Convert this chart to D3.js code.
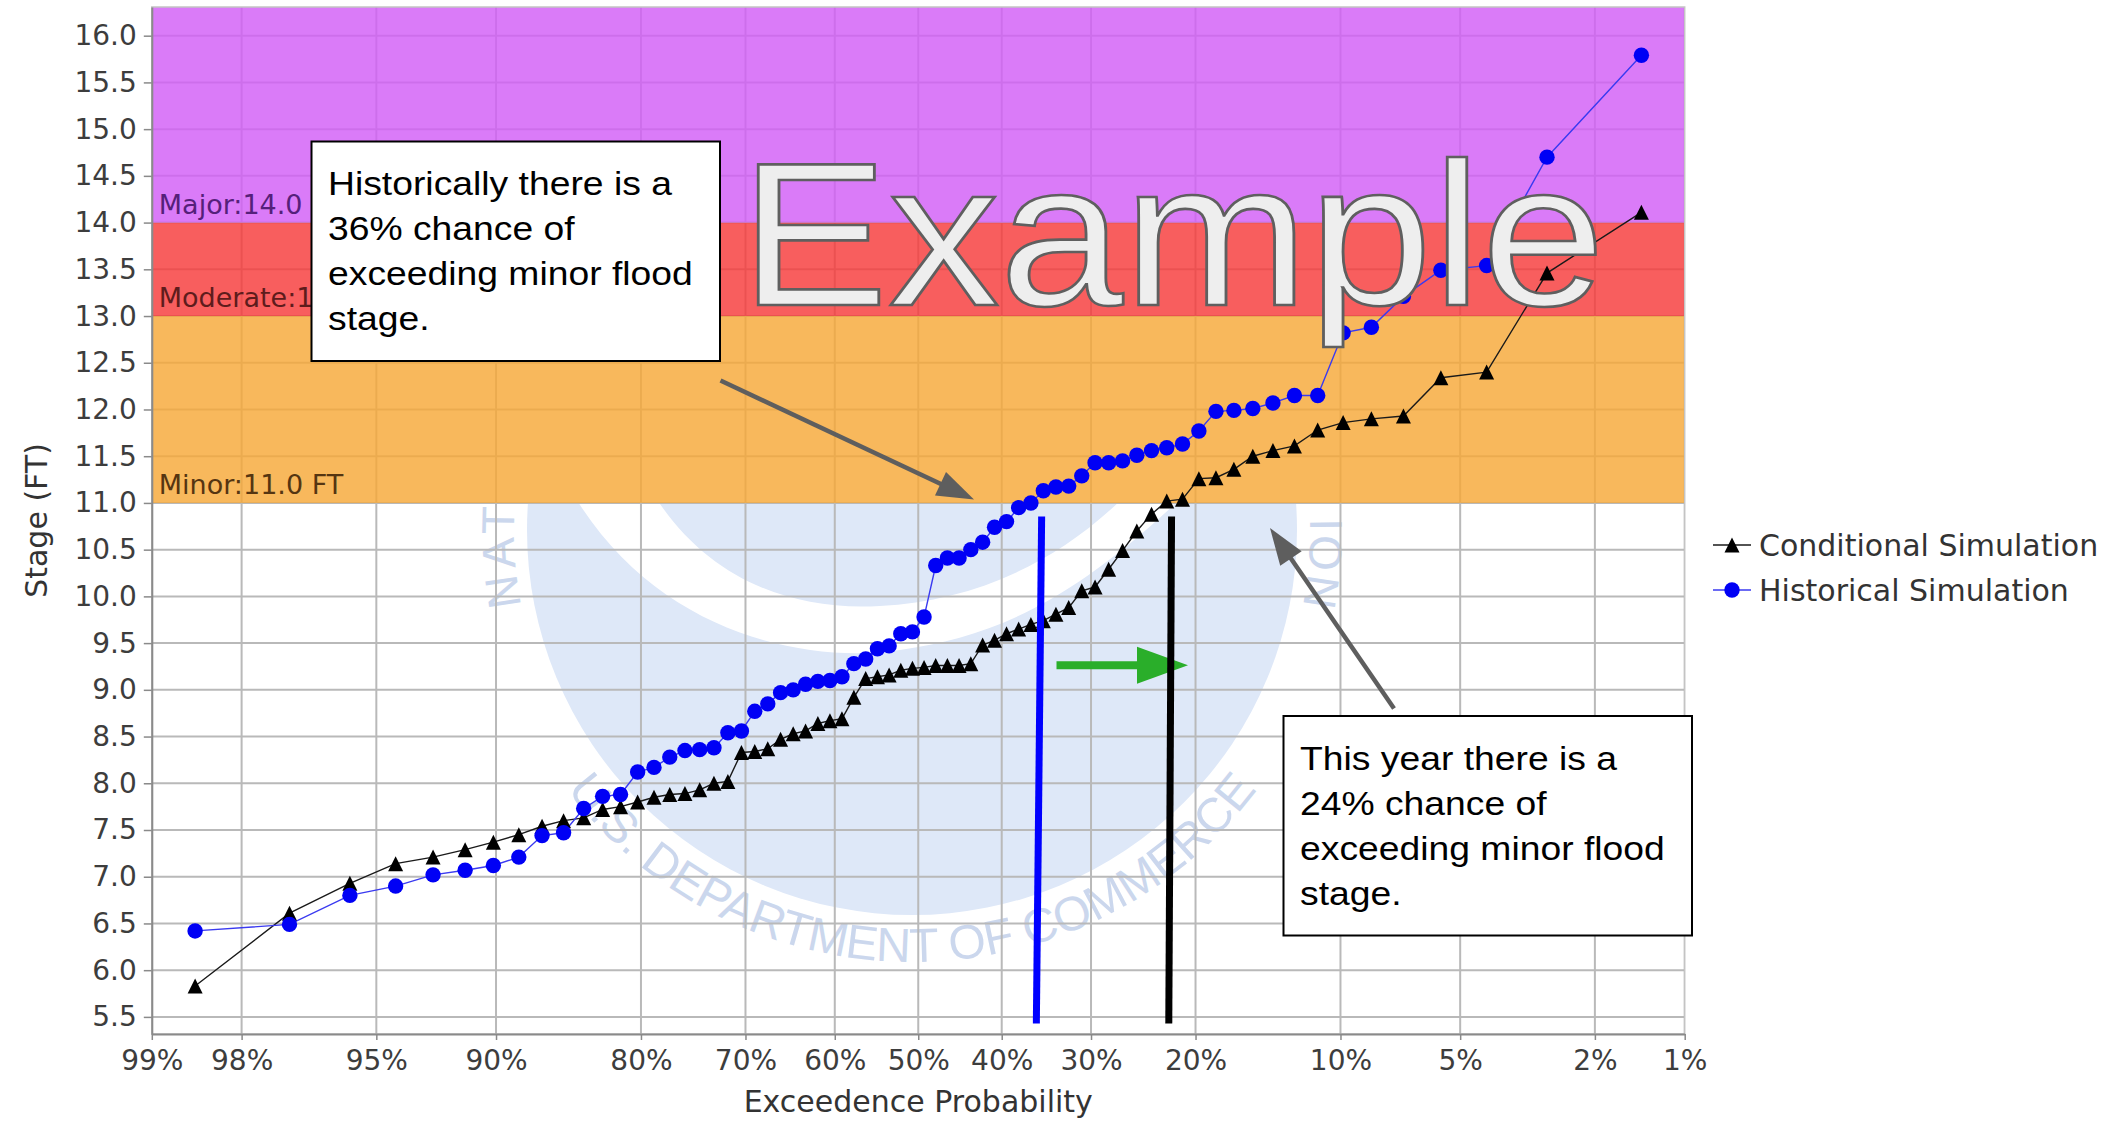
<!DOCTYPE html>
<html>
<head>
<meta charset="utf-8">
<script src="https://cdn.jsdelivr.net/npm/d3@7"></script>
<style>
  html, body { margin: 0; padding: 0; background: #ffffff; }
  svg { display: block; }
</style>
</head>
<body>
<svg id="chart" width="2106" height="1121"></svg>
<script>
// ---------------------------------------------------------------
// Data
// ---------------------------------------------------------------
// Exceedance probabilities marked on the probability axis
const probTicks = [0.99, 0.98, 0.95, 0.90, 0.80, 0.70, 0.60, 0.50, 0.40, 0.30, 0.20, 0.10, 0.05, 0.02, 0.01];
const probTickLabels = ["99%", "98%", "95%", "90%", "80%", "70%", "60%", "50%", "40%", "30%", "20%", "10%", "5%", "2%", "1%"];

// Stage axis ticks (FT)
const stageTicks = [5.5, 6.0, 6.5, 7.0, 7.5, 8.0, 8.5, 9.0, 9.5, 10.0, 10.5, 11.0, 11.5, 12.0, 12.5, 13.0, 13.5, 14.0, 14.5, 15.0, 15.5, 16.0];

// Simulated stages, sorted from lowest to highest (FT)
const conditional = [
  5.83, 6.61, 6.93, 7.14, 7.21, 7.29, 7.37, 7.45, 7.54, 7.60,
  7.63, 7.72, 7.75, 7.80, 7.85, 7.88, 7.89, 7.93, 8.00, 8.02,
  8.33, 8.34, 8.37, 8.47, 8.53, 8.56, 8.64, 8.67, 8.69, 8.92,
  9.12, 9.14, 9.16, 9.21, 9.23, 9.24, 9.26, 9.26, 9.26, 9.28,
  9.48, 9.53, 9.60, 9.65, 9.70, 9.74, 9.81, 9.88, 10.06, 10.10,
  10.29, 10.49, 10.70, 10.88, 11.02, 11.04, 11.26, 11.27, 11.36, 11.50,
  11.56, 11.61, 11.78, 11.86, 11.90, 11.93, 12.34, 12.40, 13.46, 14.11
];
const historical = [
  6.42, 6.49, 6.80, 6.90, 7.02, 7.07, 7.12, 7.21, 7.44, 7.47,
  7.73, 7.86, 7.88, 8.12, 8.17, 8.28, 8.35, 8.36, 8.38, 8.54,
  8.56, 8.77, 8.85, 8.97, 9.00, 9.06, 9.09, 9.10, 9.14, 9.28,
  9.33, 9.44, 9.47, 9.60, 9.62, 9.78, 10.33, 10.41, 10.41, 10.50,
  10.58, 10.74, 10.80, 10.95, 11.00, 11.13, 11.17, 11.18, 11.29, 11.43,
  11.43, 11.45, 11.51, 11.56, 11.59, 11.63, 11.77, 11.98, 11.99, 12.01,
  12.07, 12.15, 12.15, 12.82, 12.88, 13.21, 13.49, 13.54, 14.70, 15.79
];

// Flood categories: name and stage at which each begins (FT)
const floodNames = ["Minor", "Moderate", "Major"];
const floodStages = [11.0, 13.0, 14.0];

const seriesNames = ["Conditional Simulation", "Historical Simulation"];

// Exceedance marks where each series reaches minor flood stage (top, bottom of each line)
const histMarkProb = [0.354, 0.360];
const condMarkProb = [0.221, 0.2235];
const markStageRange = [10.855, 5.43];

const noteHistorical = ["Historically there is a", "36% chance of", "exceeding minor flood", "stage."];
const noteThisYear = ["This year there is a", "24% chance of", "exceeding minor flood", "stage."];

// ---------------------------------------------------------------
// Layout and style
// ---------------------------------------------------------------
const plot = { left: 151.8, right: 1684.7, top: 7, bottom: 1034 };
const SANS = "'DejaVu Sans', Verdana, sans-serif";
const ARIAL = "'Liberation Sans', Arial, sans-serif";
const bandOpacity = 0.82;
const bandFill = { Minor: "#f7a838", Moderate: "#f73a3a", Major: "#d25ef6" };
const bandText = { Minor: "#553511", Moderate: "#5e1c1c", Major: "#55207a" };

// Inverse of the standard normal CDF (Acklam's rational approximation)
function probit(p) {
  const a = [-3.969683028665376e+01, 2.209460984245205e+02, -2.759285104469687e+02, 1.383577518672690e+02, -3.066479806614716e+01, 2.506628277459239e+00];
  const b = [-5.447609879822406e+01, 1.615858368580409e+02, -1.556989798598866e+02, 6.680131188771972e+01, -1.328068155288572e+01];
  const c = [-7.784894002430293e-03, -3.223964580411365e-01, -2.400758277161838e+00, -2.549732539343734e+00, 4.374664141464968e+00, 2.938163982698783e+00];
  const d = [7.784695709041462e-03, 3.224671290700398e-01, 2.445134137142996e+00, 3.754408661907416e+00];
  const pl = 0.02425, ph = 1 - pl;
  let q, r;
  if (p < pl) {
    q = Math.sqrt(-2 * Math.log(p));
    return (((((c[0]*q + c[1])*q + c[2])*q + c[3])*q + c[4])*q + c[5]) / ((((d[0]*q + d[1])*q + d[2])*q + d[3])*q + 1);
  }
  if (p > ph) {
    q = Math.sqrt(-2 * Math.log(1 - p));
    return -(((((c[0]*q + c[1])*q + c[2])*q + c[3])*q + c[4])*q + c[5]) / ((((d[0]*q + d[1])*q + d[2])*q + d[3])*q + 1);
  }
  q = p - 0.5; r = q * q;
  return (((((a[0]*r + a[1])*r + a[2])*r + a[3])*r + a[4])*r + a[5])*q / (((((b[0]*r + b[1])*r + b[2])*r + b[3])*r + b[4])*r + 1);
}

// ---------------------------------------------------------------
// Scales
// ---------------------------------------------------------------
const zScale = d3.scaleLinear().domain([probit(0.99), probit(0.01)]).range([plot.left, plot.right]);
const x = p => zScale(probit(p));
const y = d3.scaleLinear().domain([5.317, 16.307]).range([plot.bottom, plot.top]);

// Weibull plotting position: exceedance of the i-th lowest of n values
const plotPos = (i, n) => 1 - (i + 1) / (n + 1);
const toPoints = arr => arr.map((v, i) => ({ p: plotPos(i, arr.length), v }));
const condPts = toPoints(conditional);
const histPts = toPoints(historical);

const svg = d3.select("#chart");
svg.append("rect").attr("width", 2106).attr("height", 1121).attr("fill", "#ffffff");

const defs = svg.append("defs");
defs.append("clipPath").attr("id", "plotClip")
  .append("rect")
  .attr("x", plot.left).attr("y", plot.top)
  .attr("width", plot.right - plot.left).attr("height", plot.bottom - plot.top);
// the seal only shows in the open area below the flood bands
defs.append("clipPath").attr("id", "openClip")
  .append("rect")
  .attr("x", plot.left).attr("y", y(floodStages[0]))
  .attr("width", plot.right - plot.left).attr("height", plot.bottom - y(floodStages[0]));

const plotG = svg.append("g").attr("clip-path", "url(#plotClip)");

// ---------------------------------------------------------------
// Faint agency seal behind the plot
// ---------------------------------------------------------------
const seal = { cx: 912, cy: 530, r: 385 };
const sealG = plotG.append("g").attr("clip-path", "url(#openClip)");
defs.append("clipPath").attr("id", "sealClip")
  .append("circle").attr("cx", seal.cx).attr("cy", seal.cy).attr("r", seal.r);
sealG.append("circle")
  .attr("cx", seal.cx).attr("cy", seal.cy).attr("r", seal.r)
  .attr("fill", "#dee8f8");
// white gull sweeping across the seal
sealG.append("path")
  .attr("clip-path", "url(#sealClip)")
  .attr("fill", "#ffffff")
  .attr("d", "M 560 470 C 640 630, 800 665, 900 650 C 1000 635, 1080 600, 1210 470 " +
             "L 1150 470 C 1070 560, 980 600, 880 606 C 780 612, 690 570, 640 470 Z");

const polar = (r, deg) => {
  const t = deg * Math.PI / 180;
  return [seal.cx + r * Math.cos(t), seal.cy + r * Math.sin(t)];
};
const arcPath = (r, a0, a1, sweep, large) => {
  const p0 = polar(r, a0), p1 = polar(r, a1);
  return `M ${p0[0]} ${p0[1]} A ${r} ${r} 0 ${large} ${sweep} ${p1[0]} ${p1[1]}`;
};
// lettering around the rim: the ends of the upper legend and the full lower legend
defs.append("path").attr("id", "sealLeft").attr("d", arcPath(398, 169, 200, 1, 0));
defs.append("path").attr("id", "sealRight").attr("d", arcPath(398, 340, 371, 1, 0));
defs.append("path").attr("id", "sealBottom").attr("d", arcPath(432, 146, 34, 0, 0));
const sealText = (id, size, txt, anchor, offset, len) => {
  const tp = sealG.append("text")
    .attr("font-family", ARIAL).attr("font-size", size).attr("fill", "#cbd7ed")
    .append("textPath").attr("href", "#" + id)
    .attr("startOffset", offset).attr("text-anchor", anchor)
    .text(txt);
  if (len) tp.attr("textLength", len).attr("lengthAdjust", "spacing");
};
sealText("sealLeft", 46, "NATI", "start", "0%", 118);
sealText("sealRight", 46, "ION", "end", "100%", 88);
sealText("sealBottom", 48, "U.S. DEPARTMENT OF COMMERCE", "middle", "50%", 800);

// ---------------------------------------------------------------
// Gridlines, then translucent flood-category bands over them
// ---------------------------------------------------------------
const grid = plotG.append("g").attr("stroke", "#b9b9b9").attr("stroke-width", 2);
grid.selectAll("line.h").data(stageTicks).join("line").attr("class", "h")
  .attr("x1", plot.left).attr("x2", plot.right)
  .attr("y1", d => y(d)).attr("y2", d => y(d));
grid.selectAll("line.v").data(probTicks).join("line").attr("class", "v")
  .attr("y1", plot.top).attr("y2", plot.bottom)
  .attr("x1", d => x(d)).attr("x2", d => x(d));

const bandTops = floodStages.map((s, i) => i < floodStages.length - 1 ? floodStages[i + 1] : y.domain()[1]);
plotG.append("g").selectAll("rect").data(floodNames).join("rect")
  .attr("x", plot.left).attr("width", plot.right - plot.left)
  .attr("y", (d, i) => y(bandTops[i]))
  .attr("height", (d, i) => y(floodStages[i]) - y(bandTops[i]))
  .attr("fill", d => bandFill[d]).attr("fill-opacity", bandOpacity);

plotG.append("g").selectAll("text").data(floodNames).join("text")
  .attr("x", plot.left + 7)
  .attr("y", (d, i) => y(floodStages[i]) - 9)
  .attr("font-family", SANS).attr("font-size", 27)
  .attr("fill", d => bandText[d])
  .text((d, i) => `${d}:${floodStages[i].toFixed(1)} FT`);

// plot frame
svg.append("rect")
  .attr("x", plot.left).attr("y", plot.top)
  .attr("width", plot.right - plot.left).attr("height", plot.bottom - plot.top)
  .attr("fill", "none").attr("stroke", "#c4c4c4").attr("stroke-width", 1.5);

// ---------------------------------------------------------------
// Axes
// ---------------------------------------------------------------
const xAxis = d3.axisBottom(zScale)
  .tickValues(probTicks.map(probit))
  .tickFormat((d, i) => probTickLabels[i])
  .tickSize(6).tickSizeOuter(0).tickPadding(10);
const xg = svg.append("g").attr("transform", `translate(0,${plot.bottom})`).call(xAxis);

const yAxis = d3.axisLeft(y)
  .tickValues(stageTicks)
  .tickFormat(d3.format(".1f"))
  .tickSize(8).tickSizeOuter(0).tickPadding(7);
const yg = svg.append("g").attr("transform", `translate(${plot.left},0)`).call(yAxis);

[xg, yg].forEach(g => {
  g.select(".domain").attr("stroke", "#8a8a8a").attr("stroke-width", 2);
  g.selectAll(".tick line").attr("stroke", "#8a8a8a").attr("stroke-width", 1.5);
  g.selectAll(".tick text").attr("font-family", SANS).attr("font-size", 28).attr("fill", "#3d3d3d");
});

svg.append("text")
  .attr("x", (plot.left + plot.right) / 2).attr("y", 1112)
  .attr("text-anchor", "middle")
  .attr("font-family", SANS).attr("font-size", 30).attr("fill", "#333")
  .text("Exceedence Probability");
svg.append("text")
  .attr("transform", `translate(47,${(plot.top + plot.bottom) / 2}) rotate(-90)`)
  .attr("text-anchor", "middle")
  .attr("font-family", SANS).attr("font-size", 30).attr("fill", "#333")
  .text("Stage (FT)");

// ---------------------------------------------------------------
// Series
// ---------------------------------------------------------------
const line = d3.line().x(d => x(d.p)).y(d => y(d.v));
const triPath = "M0,-7.5L7.5,7.5L-7.5,7.5Z";

const dataG = plotG.append("g");
dataG.append("path").datum(condPts).attr("d", line)
  .attr("fill", "none").attr("stroke", "#1a1a1a").attr("stroke-width", 1.4);
dataG.append("path").datum(histPts).attr("d", line)
  .attr("fill", "none").attr("stroke", "#3a3af0").attr("stroke-width", 1.4);
dataG.append("g").selectAll("path").data(condPts).join("path")
  .attr("d", triPath)
  .attr("transform", d => `translate(${x(d.p)},${y(d.v)})`)
  .attr("fill", "#000");
dataG.append("g").selectAll("circle").data(histPts).join("circle")
  .attr("cx", d => x(d.p)).attr("cy", d => y(d.v)).attr("r", 7.7)
  .attr("fill", "#0000f5");

// ---------------------------------------------------------------
// Annotations
// ---------------------------------------------------------------
const annot = svg.append("g");

// green shift arrow between the two marks
const gy = y(9.262);
annot.append("line")
  .attr("x1", 1056.5).attr("x2", 1140).attr("y1", gy).attr("y2", gy)
  .attr("stroke", "#2aae2a").attr("stroke-width", 8);
annot.append("path")
  .attr("d", `M1137,${gy - 18.5} L1188,${gy} L1137,${gy + 18.5} Z`)
  .attr("fill", "#2aae2a");

// vertical marks at the exceedance where each series reaches minor stage
annot.append("line")
  .attr("x1", x(histMarkProb[0])).attr("y1", y(markStageRange[0]))
  .attr("x2", x(histMarkProb[1])).attr("y2", y(markStageRange[1]))
  .attr("stroke", "#0000ff").attr("stroke-width", 7);
annot.append("line")
  .attr("x1", x(condMarkProb[0])).attr("y1", y(markStageRange[0]))
  .attr("x2", x(condMarkProb[1])).attr("y2", y(markStageRange[1]))
  .attr("stroke", "#000000").attr("stroke-width", 7);

// "Example" stamp
svg.append("text")
  .attr("transform", "translate(740,305) scale(1.085,1)")
  .attr("font-family", ARIAL).attr("font-size", 205)
  .attr("fill", "#eeeeee").attr("stroke", "#5f5f5f").attr("stroke-width", 2.6)
  .text("Example");

// pointer arrows
function pointer(x0, y0, x1, y1) {
  const ang = Math.atan2(y1 - y0, x1 - x0);
  const len = 37, hw = 13;
  const bx = x1 - len * Math.cos(ang), by = y1 - len * Math.sin(ang);
  const nx = -Math.sin(ang), ny = Math.cos(ang);
  annot.append("line")
    .attr("x1", x0).attr("y1", y0).attr("x2", bx + 4 * Math.cos(ang)).attr("y2", by + 4 * Math.sin(ang))
    .attr("stroke", "#5e5e5e").attr("stroke-width", 4.5);
  annot.append("path")
    .attr("d", `M${x1},${y1} L${bx + hw * nx},${by + hw * ny} L${bx - hw * nx},${by - hw * ny} Z`)
    .attr("fill", "#5e5e5e");
}
pointer(720.5, 380.5, 974, 499.5);
pointer(1394, 708.5, 1270, 528);

// note boxes
function note(bx, by, lines) {
  const g = svg.append("g");
  g.append("rect").attr("x", bx).attr("y", by).attr("width", 408.5).attr("height", 219.5)
    .attr("fill", "#ffffff").attr("stroke", "#000").attr("stroke-width", 2);
  lines.forEach((t, i) => {
    g.append("text")
      .attr("transform", `translate(${bx + 16.5},${by + 53.5 + i * 45}) scale(1.13,1)`)
      .attr("font-family", ARIAL).attr("font-size", 33).attr("fill", "#000")
      .text(t);
  });
}
note(311.5, 141.5, noteHistorical);
note(1283.5, 716, noteThisYear);

// ---------------------------------------------------------------
// Legend
// ---------------------------------------------------------------
const legend = svg.append("g");
const legY = [545, 590];
seriesNames.forEach((name, i) => {
  const g = legend.append("g").attr("transform", `translate(0,${legY[i]})`);
  g.append("line").attr("x1", 1713).attr("x2", 1751).attr("y1", 0).attr("y2", 0)
    .attr("stroke", i === 0 ? "#1a1a1a" : "#3a3af0").attr("stroke-width", 1.6);
  if (i === 0) {
    g.append("path").attr("d", triPath).attr("transform", "translate(1732,0)").attr("fill", "#000");
  } else {
    g.append("circle").attr("cx", 1732).attr("cy", 0).attr("r", 7.7).attr("fill", "#0000f5");
  }
  g.append("text").attr("x", 1759).attr("y", 0).attr("dy", "0.36em")
    .attr("font-family", SANS).attr("font-size", 30).attr("fill", "#333")
    .text(name);
});
</script>
</body>
</html>
